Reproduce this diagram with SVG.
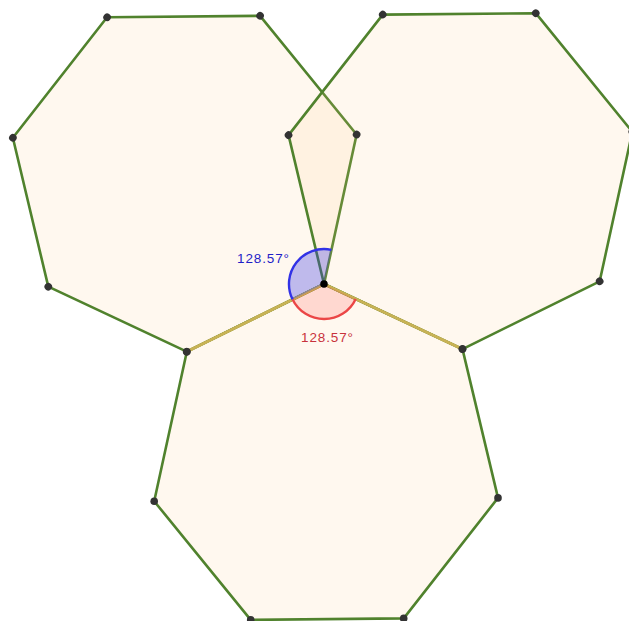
<svg xmlns="http://www.w3.org/2000/svg" width="629" height="621" viewBox="0 0 629 621">
<style>
.hept{fill:rgb(255,200,130);fill-opacity:0.13;stroke:rgb(80,130,45);stroke-width:2.6;stroke-linejoin:round}
.pt{fill:#333333}
.seg{stroke:rgb(200,178,85);stroke-width:3;stroke-linecap:round;fill:none}
.lbl{font-family:"Liberation Sans",Arial,sans-serif;font-size:13.5px}
</style>
<defs>
<g id="heptShape">
<polygon class="hept" points="324,284 462.5,349.1 498,497.9 403.7,618.4 250.7,619.9 154.2,501.2 186.8,351.7"/>
</g>
<g id="heptDots">
<circle class="pt" cx="462.5" cy="349.1" r="3.8"/>
<circle class="pt" cx="498" cy="497.9" r="3.8"/>
<circle class="pt" cx="403.7" cy="618.4" r="3.8"/>
<circle class="pt" cx="250.7" cy="619.9" r="3.8"/>
<circle class="pt" cx="154.2" cy="501.2" r="3.8"/>
<circle class="pt" cx="186.8" cy="351.7" r="3.8"/>
</g>
</defs>
<rect width="629" height="621" fill="#ffffff"/>
<g id="heptagon-left"><use href="#heptShape" transform="rotate(128.5714 324 284)"/></g>
<g id="heptagon-right"><use href="#heptShape" transform="rotate(-128.5714 324 284)"/></g>
<g id="heptagon-bottom"><use href="#heptShape"/></g>
<g id="segments">
<line class="seg" x1="324" y1="284" x2="186.8" y2="351.7"/>
<line class="seg" x1="324" y1="284" x2="462.5" y2="349.1"/>
</g>
<g id="angle-blue">
<path d="M324,284 L292.6,299.5 A35,35 0 0 1 331.5,249.8 Z" fill="rgb(60,60,230)" fill-opacity="0.33" stroke="none"/>
<path d="M292.6,299.5 A35,35 0 0 1 331.5,249.8" fill="none" stroke="rgb(50,50,230)" stroke-width="2.4"/>
</g>
<g id="angle-red">
<path d="M324,284 L355.7,298.9 A35,35 0 0 1 292.6,299.5 Z" fill="rgb(255,60,60)" fill-opacity="0.17" stroke="none"/>
<path d="M355.7,298.9 A35,35 0 0 1 292.6,299.5" fill="none" stroke="rgb(235,70,70)" stroke-width="2.4"/>
</g>
<g id="points">
<use href="#heptDots" transform="rotate(128.5714 324 284)"/>
<use href="#heptDots" transform="rotate(-128.5714 324 284)"/>
<use href="#heptDots"/>
<circle cx="324" cy="284" r="3.8" fill="#000"/>
</g>
<g id="labels">
<text class="lbl" x="237" y="263" fill="rgb(30,30,200)" textLength="52">128.57°</text>
<text class="lbl" x="301" y="342" fill="rgb(200,50,60)" textLength="52">128.57°</text>
</g>
</svg>
